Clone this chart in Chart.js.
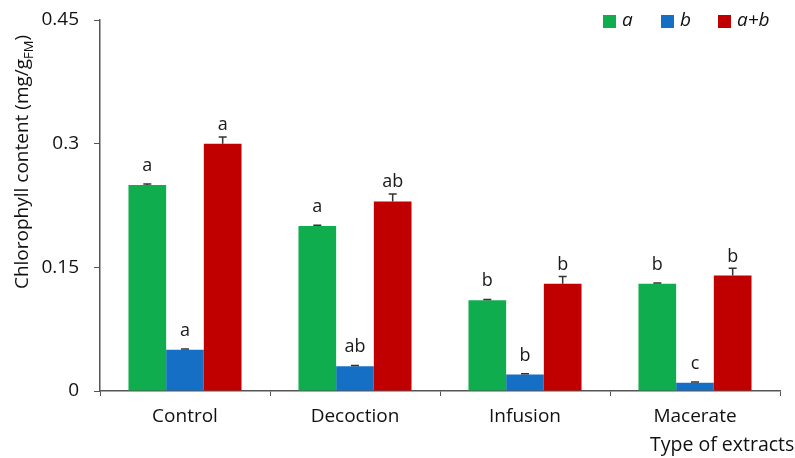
<!DOCTYPE html>
<html><head><meta charset="utf-8">
<script src="https://cdn.jsdelivr.net/npm/chart.js@4/dist/chart.umd.min.js"></script>
<style>html,body{margin:0;padding:0;background:#fff}#wrap{width:795px;height:458px}</style>
</head><body><div id="wrap"><canvas id="c" width="795" height="458"></canvas></div>
<script>
const categories = ["Control", "Decoction", "Infusion", "Macerate"];
const seriesNames = ["a", "b", "a+b"];
const valuesA = [0.25, 0.20, 0.11, 0.13];
const valuesB = [0.05, 0.03, 0.02, 0.01];
const valuesAB = [0.30, 0.23, 0.13, 0.14];
const errorsA = [0.001, 0.001, 0.001, 0.001];
const errorsB = [0.001, 0.001, 0.001, 0.001];
const errorsAB = [0.008, 0.009, 0.009, 0.009];
const lettersA = ["a", "a", "b", "b"];
const lettersB = ["a", "ab", "b", "c"];
const lettersAB = ["a", "ab", "b", "b"];
const yTicks = [0, 0.15, 0.3, 0.45];
const colors = ["#10ad4f", "#1570c5", "#c00000"];
const FONT = "'Open Sans', 'Noto Sans', sans-serif";

const errs = [errorsA, errorsB, errorsAB];
const letters = [lettersA, lettersB, lettersAB];

const overlay = {
  id: 'overlay',
  afterDatasetsDraw(chart) {
    const ctx = chart.ctx;
    const y = chart.scales.y;
    ctx.save();
    chart.data.datasets.forEach((ds, i) => {
      const meta = chart.getDatasetMeta(i);
      meta.data.forEach((bar, j) => {
        const v = ds.data[j], e = errs[i][j];
        const yTop = y.getPixelForValue(v + e);
        const yv = y.getPixelForValue(v);
        ctx.strokeStyle = '#333';
        ctx.lineWidth = 1.5;
        ctx.beginPath();
        ctx.moveTo(bar.x, yv); ctx.lineTo(bar.x, yTop);
        ctx.moveTo(bar.x - 4, yTop); ctx.lineTo(bar.x + 4, yTop);
        ctx.stroke();
        ctx.fillStyle = '#1a1a1a';
        ctx.font = "18px " + FONT;
        ctx.textAlign = 'center';
        ctx.textBaseline = 'alphabetic';
        ctx.fillText(letters[i][j], bar.x, yv - 14);
      });
    });
    ctx.restore();
  },
  afterDraw(chart) {
    const ctx = chart.ctx;
    ctx.save();
    ctx.translate(23, 162);
    ctx.rotate(-Math.PI / 2);
    ctx.fillStyle = '#111';
    ctx.textBaseline = 'middle';
    const main = "Chlorophyll content (mg/g";
    const sub = "FM";
    const end = ")";
    ctx.font = "19px " + FONT;
    const w1 = ctx.measureText(main).width;
    const w3 = ctx.measureText(end).width;
    ctx.font = "13px " + FONT;
    const w2 = ctx.measureText(sub).width;
    const total = w1 + w2 + w3;
    let x = -total / 2;
    ctx.textAlign = 'left';
    ctx.font = "19px " + FONT;
    ctx.fillText(main, x, 0); x += w1;
    ctx.font = "13px " + FONT;
    ctx.fillText(sub, x, 6); x += w2;
    ctx.font = "19px " + FONT;
    ctx.fillText(end, x, 0);
    ctx.restore();

    ctx.save();
    ctx.fillStyle = '#111';
    ctx.font = "19.5px " + FONT;
    ctx.textAlign = 'left';
    ctx.textBaseline = 'middle';
    ctx.fillText("Type of extracts", 650, 445);
    ctx.restore();

    ctx.save();
    const items = [[603, 622], [661, 680], [718, 737]];
    chart.data.datasets.forEach((ds, i) => {
      ctx.fillStyle = colors[i];
      ctx.fillRect(items[i][0], 15, 13, 13);
      ctx.fillStyle = '#111';
      ctx.font = "italic 19px " + FONT;
      ctx.textAlign = 'left';
      ctx.textBaseline = 'middle';
      ctx.fillText(ds.label, items[i][1], 21);
    });
    ctx.restore();
  }
};

new Chart(document.getElementById('c'), {
  type: 'bar',
  data: {
    labels: categories,
    datasets: [
      { label: seriesNames[0], data: valuesA, backgroundColor: colors[0] },
      { label: seriesNames[1], data: valuesB, backgroundColor: colors[1] },
      { label: seriesNames[2], data: valuesAB, backgroundColor: colors[2] }
    ]
  },
  options: {
    responsive: false,
    animation: false,
    devicePixelRatio: 1,
    layout: { padding: { top: 20, right: 15, left: 0, bottom: 0 } },
    datasets: { bar: { barPercentage: 1.0, categoryPercentage: 0.665 } },
    plugins: { legend: { display: false }, tooltip: { enabled: false } },
    scales: {
      x: {
        grid: { display: true, drawOnChartArea: false, offset: true, tickLength: 5, color: '#555' },
        border: { color: '#555', width: 1.5 },
        ticks: { color: '#111', font: { size: 19, family: FONT }, padding: 9 },
        afterFit(s) { s.height = 67; s.paddingLeft = 0; s.paddingRight = 0; }
      },
      y: {
        min: 0, max: 0.45,
        afterBuildTicks(s) { s.ticks = yTicks.map(v => ({ value: v })); },
        grid: { display: true, drawOnChartArea: false, tickLength: 6, color: '#555' },
        border: { color: '#555', width: 1.5 },
        ticks: { color: '#111', font: { size: 19, family: FONT }, padding: 15,
          callback: v => String(Math.round(v * 100) / 100) },
        afterFit(s) { s.width = 100; s.paddingTop = 0; s.paddingBottom = 0; }
      }
    }
  },
  plugins: [overlay]
});
</script></body></html>
